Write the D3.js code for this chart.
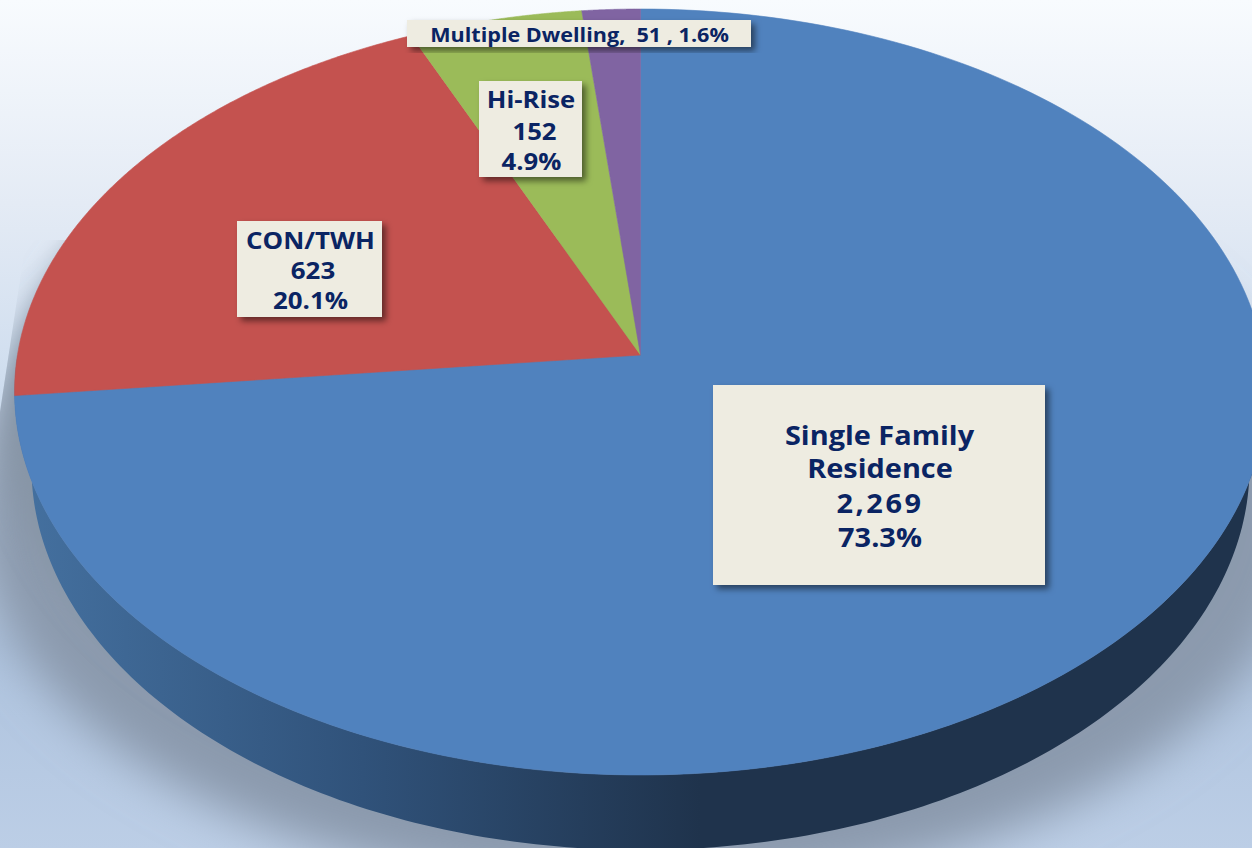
<!DOCTYPE html>
<html><head><meta charset="utf-8">
<script src="https://cdn.jsdelivr.net/npm/d3@7/dist/d3.min.js"></script>
<style>html,body{margin:0;padding:0;overflow:hidden;background:#fff}svg{display:block}</style>
</head><body><svg id="c" width="1252" height="848"></svg>
<script>
const categories = ["Single Family Residence","CON/TWH","Hi-Rise","Multiple Dwelling"];
const counts = [2269,623,152,51];
const percents = ["73.3%","20.1%","4.9%","1.6%"];
const sliceColors = ["#5082be","#c4524f","#9bbb59","#8064a2"];
const countLabels = ["2,269","623","152","51"];

const W=1252,H=848;
const svg=d3.select("#c");
const defs=svg.append("defs");
const bg=defs.append("linearGradient").attr("id","bg").attr("x1",0).attr("x2",0).attr("y1",0).attr("y2",1);
[[0,"#f8fbfe"],[.24,"#e4ebf5"],[.47,"#cddcee"],[.76,"#aec3de"],[1,"#bccee6"]].forEach(s=>bg.append("stop").attr("offset",s[0]).attr("stop-color",s[1]));
const wall=defs.append("linearGradient").attr("id","wall").attr("gradientUnits","userSpaceOnUse").attr("x1",25).attr("x2",700).attr("y1",0).attr("y2",0);
[[0,"#44709f"],[.5,"#30527a"],[1,"#1f334c"]].forEach(s=>wall.append("stop").attr("offset",s[0]).attr("stop-color",s[1]));
const mkBlur=(id,sd)=>defs.append("filter").attr("id",id).attr("filterUnits","userSpaceOnUse").attr("x",-200).attr("y",-200).attr("width",W+400).attr("height",H+400)
  .append("feGaussianBlur").attr("stdDeviation",sd);
mkBlur("blur",24);mkBlur("blur2",14);
const ds=defs.append("filter").attr("id","ds").attr("x","-20%").attr("y","-20%").attr("width","140%").attr("height","140%");
ds.append("feDropShadow").attr("dx",4).attr("dy",4).attr("stdDeviation",3).attr("flood-color","#000").attr("flood-opacity",.5);
// the shadow stops at a slanted edge on the far left
defs.append("clipPath").attr("id","shclip").append("path").attr("d","M26,240L0,412L0,848L1252,848L1252,240Z");

svg.append("rect").attr("width",W).attr("height",H).attr("fill","url(#bg)");

// perspective projection of the pie's disc
const apex=[640.5,355],rx=623,ry=379.4,k=0.0966;
const proj=(a,r=1,dx=0,dy=0,sx=1)=>{const u=Math.sin(a)*r,v=Math.cos(a)*r,d=1+k*v;
  return [apex[0]+sx*rx*u/d+dx,apex[1]-ry*v/d+dy];};
const line=d3.line();
const steps=(a0,a1)=>d3.range(0,201).map(i=>a0+(a1-a0)*i/200);

// shadow
const sh=svg.append("g").attr("clip-path","url(#shclip)");
sh.append("path").attr("d",line(steps(0,2*Math.PI).map(a=>proj(a,1,0,118,1.065)))+"Z").attr("fill","#8b9aad").attr("filter","url(#blur)");
sh.append("path").attr("d",line(steps(Math.PI,2*Math.PI).map(a=>proj(a,1,0,30,1.015)))+"Z").attr("fill","#8795a6").attr("filter","url(#blur2)");

// wall
const lower=steps(Math.PI/2,3*Math.PI/2);
const wallPts=lower.map(a=>proj(a)).concat(lower.slice().reverse().map(a=>proj(a,1,0,75,0.973)));
svg.append("path").attr("d",line(wallPts)+"Z").attr("fill","url(#wall)");

// slices
const arcs=d3.pie().sort(null).value(d=>d)(counts);
svg.selectAll("path.s").data(arcs).join("path").attr("class","s")
  .attr("d",d=>line([apex].concat(steps(d.startAngle,d.endAngle).map(a=>proj(a))))+"Z")
  .attr("fill",(d,i)=>sliceColors[i]).attr("stroke",(d,i)=>sliceColors[i]).attr("stroke-width",.6);

// labels
const labelLines=[
  ["Single Family","Residence",countLabels[0],percents[0]],
  [categories[1],countLabels[1],percents[1]],
  [categories[2],countLabels[2],percents[2]],
  [`${categories[3]},  ${countLabels[3]} , ${percents[3]}`]];
const boxes=[
  {x:713,y:385,w:332,h:200,cx:[879.5,880,880,880],by:[445,478,513,547],ls:[0,0,2.4,0],fs:27,sx:1.07},
  {x:237,y:221,w:145,h:96,cx:[310.5,313,310.5],by:[249,279,309],ls:[0,0,0],fs:24,sx:1.08},
  {x:479,y:81,w:103,h:96,cx:[531,534.5,531.5],by:[108,140,170],ls:[0,0,0],fs:24,sx:1.07},
  {x:407,y:20,w:344,h:27,cx:[579.5],by:[42],ls:[0],fs:20,sx:1.08}];
boxes.forEach((b,i)=>{
  svg.append("rect").attr("x",b.x).attr("y",b.y).attr("width",b.w).attr("height",b.h).attr("fill","#eeece1").attr("filter","url(#ds)");
  labelLines[i].forEach((t,j)=>svg.append("text").attr("transform",`translate(${b.cx[j]},${b.by[j]}) scale(${b.sx},1)`).attr("text-anchor","middle")
    .style("white-space","pre").attr("letter-spacing",b.ls[j])
    .attr("font-family","'Open Sans'").attr("font-weight",700).attr("font-size",b.fs).attr("fill","#0a2463").text(t));
});
</script></body></html>
